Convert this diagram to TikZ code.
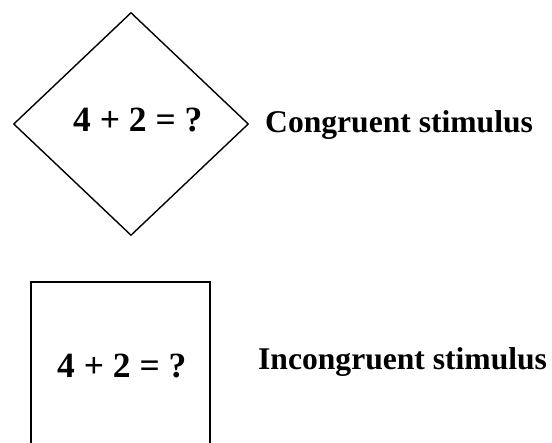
\documentclass[tikz,border=0pt]{standalone}
\usepackage{fontspec}
\setmainfont{Liberation Serif}
\usetikzlibrary{shapes.geometric}
\begin{document}
\begin{tikzpicture}[x=1pt,y=-1pt,
  lbl/.style={inner sep=0pt,anchor=base west,font=\fontsize{31.6pt}{36pt}\selectfont\bfseries},
  eq/.style={inner sep=0pt,anchor=base west,font=\fontsize{35.5pt}{40pt}\selectfont\bfseries},
  frame/.style={draw=black,line width=1.4pt}]
\useasboundingbox (0,0) rectangle (552,443);
\node (dia) [frame,diamond,minimum width=235pt,minimum height=223pt,inner sep=0pt] at (131,124) {};
\node (eq1) [eq] at (73,132) {4 + 2 = ?};
\node (l1) [lbl] at (265,133) {Congruent stimulus};
\coordinate (rbl) at (31,446);
\coordinate (rtl) at (31,282);
\coordinate (rtr) at (210,282);
\coordinate (rbr) at (210,446);
\draw[frame] (rbl) -- (rtl) -- (rtr) -- (rbr);
\node (eq2) [eq] at (57,378) {4 + 2 = ?};
\node (l2) [lbl] at (258,370) {Incongruent stimulus};
\end{tikzpicture}
\end{document}
